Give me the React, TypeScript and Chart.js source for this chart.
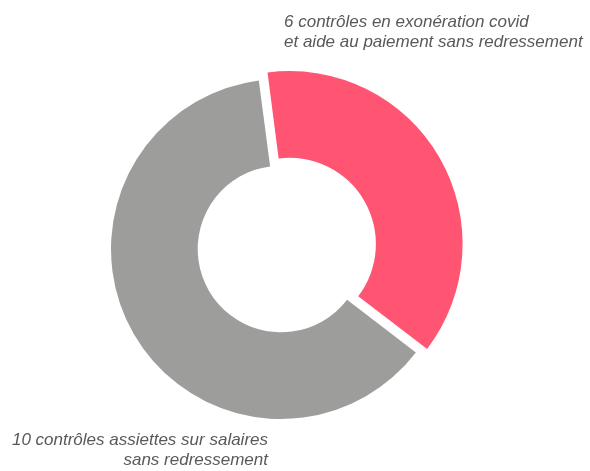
import { useEffect, useRef } from "react";
import { Chart, registerables } from "chart.js";

Chart.register(...registerables);

const categories = [
  "Exonération covid et aide au paiement sans redressement",
  "Assiettes sur salaires sans redressement",
];
const values = [6, 10];
const labelLines = [
  ["6 contrôles en exonération covid", "et aide au paiement sans redressement"],
  ["10 contrôles assiettes sur salaires", "sans redressement"],
];
const colors = ["#FF5472", "#9D9D9B"];

const sliceLabelPlugin = {
  id: "sliceLabels",
  afterDraw(chart: any) {
    const meta = chart.getDatasetMeta(0);
    const base = meta.data[1];
    if (!base) return;
    const cx = base.x;
    const cy = base.y;
    const ctx = chart.ctx;
    ctx.save();
    ctx.font = 'italic 17px "Liberation Sans", Arial, sans-serif';
    ctx.fillStyle = "#595959";
    ctx.textBaseline = "alphabetic";
    const placements = [
      { x: cx + 3, y: cy - 222, align: "left" },
      { x: cx - 13, y: cy + 196, align: "right" },
    ];
    labelLines.forEach((lines, i) => {
      const p = placements[i];
      ctx.textAlign = p.align;
      lines.forEach((line, j) => {
        ctx.fillText(line, p.x, p.y + j * 20);
      });
    });
    ctx.restore();
  },
};

export default function App() {
  const canvasRef = useRef<HTMLCanvasElement | null>(null);

  useEffect(() => {
    if (!canvasRef.current) return;
    const chart = new Chart(canvasRef.current, {
      type: "doughnut",
      data: {
        labels: categories,
        datasets: [
          {
            data: values,
            backgroundColor: colors,
            borderWidth: 0,
            offset: [40, 0],
          },
        ],
      },
      options: {
        animation: false,
        responsive: true,
        maintainAspectRatio: false,
        events: [],
        rotation: -7.5,
        cutout: "49%",
        layout: { padding: { top: 59, bottom: 32, left: 91, right: 119 } },
        plugins: {
          legend: { display: false },
          tooltip: { enabled: false },
        },
      },
      plugins: [sliceLabelPlugin],
    });
    return () => chart.destroy();
  }, []);

  return (
    <div style={{ position: "absolute", left: 0, top: 0, width: 590, height: 471 }}>
      <canvas ref={canvasRef} />
    </div>
  );
}
